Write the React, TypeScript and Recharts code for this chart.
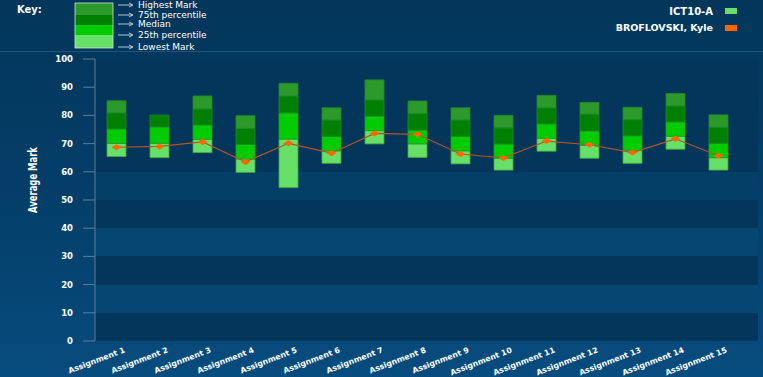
import React from 'react';
import {
    ComposedChart,
    Bar,
    Line,
    XAxis,
    YAxis,
    CartesianGrid,
} from 'recharts';

const assignments = [
    'Assignment 1', 'Assignment 2', 'Assignment 3', 'Assignment 4', 'Assignment 5',
    'Assignment 6', 'Assignment 7', 'Assignment 8', 'Assignment 9', 'Assignment 10',
    'Assignment 11', 'Assignment 12', 'Assignment 13', 'Assignment 14', 'Assignment 15',
];
const lowestMark = [65.4, 65.0, 66.8, 59.8, 54.4, 63.0, 69.9, 65.1, 62.8, 60.6, 67.3, 64.8, 63.0, 68.0, 60.6];
const percentile25 = [70.1, 70.1, 71.5, 64.5, 71.6, 67.4, 74.6, 69.9, 67.4, 64.8, 71.9, 69.4, 67.6, 72.6, 65.0];
const medianMark = [75.2, 75.9, 76.6, 69.7, 80.9, 72.6, 79.7, 74.8, 72.6, 69.9, 77.0, 74.5, 72.8, 77.7, 70.1];
const percentile75 = [80.9, 80.1, 82.3, 75.4, 86.9, 78.4, 85.5, 80.7, 78.4, 75.6, 82.7, 80.5, 78.5, 83.4, 75.8];
const highestMark = [85.2, 80.1, 86.9, 79.9, 91.4, 82.7, 92.6, 85.1, 82.7, 80.0, 87.1, 84.6, 82.9, 87.8, 80.2];
const studentMark = [68.7, 69.0, 70.6, 63.5, 70.1, 66.6, 73.6, 73.3, 66.3, 64.9, 70.9, 69.6, 66.8, 71.7, 65.7];

const yTicks = [0, 10, 20, 30, 40, 50, 60, 70, 80, 90, 100];
const yMinorTicks = Array.from({ length: 51 }, (_, i) => i * 2);
const boundaryTicks = Array.from({ length: 16 }, (_, i) => i);

const keyLabels = ['Highest Mark', '75th percentile', 'Median', '25th percentile', 'Lowest Mark'];

const C_HIGH = '#2b9a2b';
const C_Q75 = '#008000';
const C_MED = '#00cc00';
const C_Q25 = '#66e066';
const C_STUDENT = '#ff6600';

const FONT = '"DejaVu Sans", Verdana, sans-serif';

const chartData = assignments.map((name, i) => ({
    name,
    base: lowestMark[i],
    seg25: percentile25[i] - lowestMark[i],
    segMed: medianMark[i] - percentile25[i],
    seg75: percentile75[i] - medianMark[i],
    segHigh: highestMark[i] - percentile75[i],
    student: studentMark[i],
}));

const YTick = (props: any) => {
    const { x, y, payload } = props;
    return (
        <g>
            <line x1={x - 12} y1={y} x2={x} y2={y} stroke="#5d7d9c" strokeWidth={1} />
            <text x={x - 22} y={y} dy={3} textAnchor="end" fill="#fff" fontSize={8.5} fontWeight="bold" fontFamily={FONT}>
                {payload.value}
            </text>
        </g>
    );
};

const MinorTick = (props: any) => {
    const { x, y } = props;
    return <line x1={x - 5} y1={y} x2={x} y2={y} stroke="#5d7d9c" strokeWidth={1} />;
};

const XTick = (props: any) => {
    const { x, y, payload } = props;
    return (
        <g transform={`translate(${x + 9},${y + 11})`}>
            <text textAnchor="end" transform="rotate(-21)" fill="#fff" fontSize={7.8} fontWeight="bold" fontFamily={FONT}>
                {payload.value}
            </text>
        </g>
    );
};

const YLabel = (props: any) => {
    const { viewBox } = props;
    const cx = viewBox.x + 32;
    const cy = viewBox.y + viewBox.height / 2 - 20;
    return (
        <text
            x={cx}
            y={cy}
            transform={`rotate(-90, ${cx}, ${cy})`}
            textAnchor="middle"
            dominantBaseline="central"
            fill="#fff"
            fontSize={13}
            fontWeight="bold"
            fontFamily={FONT}
            textLength={66}
            lengthAdjust="spacingAndGlyphs"
        >
            Average Mark
        </text>
    );
};

const Diamond = (props: any) => {
    const { cx, cy } = props;
    if (cx == null || cy == null) return null;
    return (
        <polygon
            points={`${cx - 5},${cy} ${cx},${cy - 3} ${cx + 5},${cy} ${cx},${cy + 3}`}
            fill={C_STUDENT}
        />
    );
};

const Header = () => {
    const segs = [C_HIGH, C_Q75, C_MED, C_Q25];
    const segY = [3, 15, 25, 35, 48];
    const arrowY = [5, 15, 24, 35, 47];
    return (
        <svg width={763} height={60} style={{ position: 'absolute', left: 0, top: 0 }}>
            <text x={17} y={13} fill="#fff" fontSize={10} fontWeight="bold" fontFamily={FONT}>Key:</text>
            {segs.map((c, i) => (
                <rect key={i} x={75} y={segY[i]} width={38} height={segY[i + 1] - segY[i]} fill={c} />
            ))}
            <rect x={75} y={3} width={38} height={45} fill="none" stroke="#cfe8cf" strokeWidth={0.8} />
            {keyLabels.map((t, i) => (
                <g key={t}>
                    <line x1={118} y1={arrowY[i]} x2={132} y2={arrowY[i]} stroke="#dfe8f0" strokeWidth={0.8} />
                    <path d={`M129,${arrowY[i] - 2} L133,${arrowY[i]} L129,${arrowY[i] + 2}`} fill="none" stroke="#dfe8f0" strokeWidth={0.8} />
                    <text x={138} y={arrowY[i] + 3} fill="#fff" fontSize={9} fontFamily={FONT}>{t}</text>
                </g>
            ))}
            <text x={713} y={15} textAnchor="end" fill="#fff" fontSize={10} fontWeight="bold" fontFamily={FONT}>ICT10-A</text>
            <rect x={725} y={8} width={12} height={6} fill={C_Q25} />
            <text x={713} y={31} textAnchor="end" fill="#fff" fontSize={9.5} fontWeight="bold" fontFamily={FONT}>BROFLOVSKI, Kyle</text>
            <rect x={725} y={25} width={12} height={6} fill={C_STUDENT} />
            <line x1={0} y1={51.5} x2={763} y2={51.5} stroke="#1f5479" strokeWidth={1} />
        </svg>
    );
};

const App: React.FC = () => {
    const bandFills = ['#03365a', '#03365a', '#03365a', '#03365a', '#043f68', '#03365a', '#054672', '#03365a', '#054672', '#03365a'];
    return (
        <div
            style={{
                position: 'fixed',
                left: 0,
                top: 0,
                width: 763,
                height: 377,
                overflow: 'hidden',
                background: 'linear-gradient(to bottom, #03365a 0%, #043f6a 55%, #074c7e 100%)',
            }}
        >
            <Header />
            <div style={{ position: 'absolute', left: 0, top: 0 }}>
                <ComposedChart
                    width={763}
                    height={377}
                    data={chartData}
                    margin={{ top: 59, right: 5, left: 0, bottom: 0 }}
                    barGap={0}
                >
                    <CartesianGrid
                        yAxisId="main"
                        xAxisId="cat"
                        vertical={false}
                        stroke="transparent"
                        horizontalFill={bandFills}
                        fillOpacity={1}
                    />
                    <XAxis
                        xAxisId="bound"
                        type="number"
                        domain={[0, 15]}
                        ticks={boundaryTicks}
                        height={0}
                        tick={false}
                        tickSize={4}
                        stroke="#5d7d9c"
                        padding={{ left: 0, right: 18 }}
                    />
                    <XAxis
                        xAxisId="cat"
                        dataKey="name"
                        height={36}
                        interval={0}
                        axisLine={false}
                        tickLine={false}
                        tickSize={0}
                        tickMargin={0}
                        tick={<XTick />}
                        padding={{ left: 0, right: 18 }}
                    />
                    <YAxis
                        yAxisId="minor"
                        width={0}
                        domain={[0, 100]}
                        ticks={yMinorTicks}
                        axisLine={false}
                        tickLine={false}
                        tickSize={0}
                        tickMargin={0}
                        tick={<MinorTick />}
                    />
                    <YAxis
                        yAxisId="main"
                        width={95}
                        domain={[0, 100]}
                        ticks={yTicks}
                        stroke="#5d7d9c"
                        tickLine={false}
                        tickSize={0}
                        tickMargin={0}
                        tick={<YTick />}
                        label={<YLabel />}
                    />
                    <Bar xAxisId="cat" yAxisId="main" dataKey="base" stackId="a" fill="transparent" barSize={19} isAnimationActive={false} />
                    <Bar xAxisId="cat" yAxisId="main" dataKey="seg25" stackId="a" fill={C_Q25} stroke="#3faa3f" strokeWidth={0.8} barSize={19} isAnimationActive={false} />
                    <Bar xAxisId="cat" yAxisId="main" dataKey="segMed" stackId="a" fill={C_MED} stroke="#2a9a2a" strokeWidth={0.8} barSize={19} isAnimationActive={false} />
                    <Bar xAxisId="cat" yAxisId="main" dataKey="seg75" stackId="a" fill={C_Q75} stroke="#1f8a2a" strokeWidth={0.8} barSize={19} isAnimationActive={false} />
                    <Bar xAxisId="cat" yAxisId="main" dataKey="segHigh" stackId="a" fill={C_HIGH} stroke="#1f8a2a" strokeWidth={0.8} barSize={19} isAnimationActive={false} />
                    <Line
                        xAxisId="cat"
                        yAxisId="main"
                        type="linear"
                        dataKey="student"
                        stroke="#b0562a"
                        strokeWidth={1.2}
                        dot={<Diamond />}
                        activeDot={false}
                        isAnimationActive={false}
                    />
                </ComposedChart>
            </div>
        </div>
    );
};

export default App;
